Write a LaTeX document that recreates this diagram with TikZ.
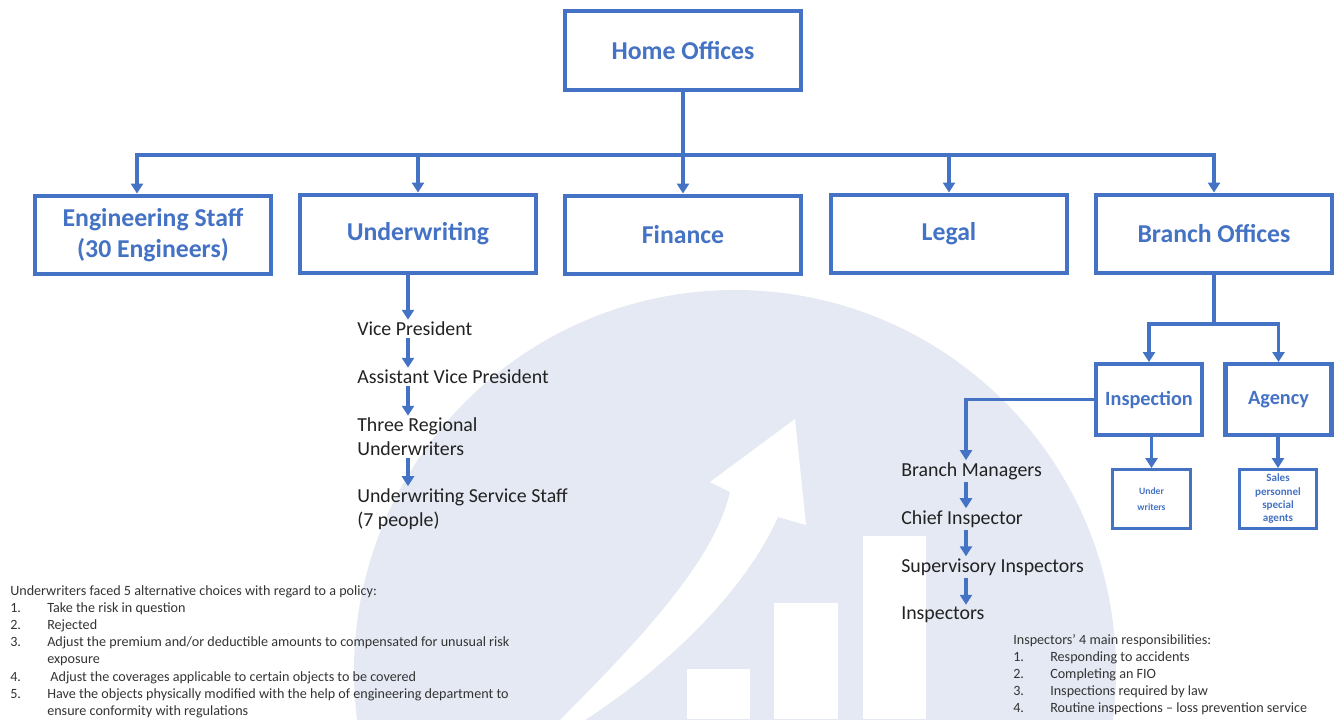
\documentclass[tikz,border=0pt]{standalone}
\usepackage{fontspec}
\setmainfont{Carlito}
\usetikzlibrary{arrows.meta}
\definecolor{boxblue}{HTML}{4472C4}
\definecolor{paleblue}{HTML}{E4E9F3}
\definecolor{ink}{HTML}{222222}
\definecolor{note}{HTML}{333333}
\tikzset{>=Triangle,
  unit/.style={draw=boxblue,line width=3.2pt,fill=white,text=boxblue,align=center,
    font=\fontsize{19.3}{23}\selectfont\bfseries,minimum width=177pt,minimum height=59pt},
  sub/.style={unit,font=\fontsize{15.2}{18}\selectfont\bfseries,minimum width=79.5pt,minimum height=53pt},
  leaf/.style={unit,line width=2.4pt,font=\fontsize{8.3}{10}\selectfont\bfseries,
    minimum width=58pt,minimum height=44pt,inner sep=1pt},
  link/.style={draw=boxblue,line width=2.6pt,line cap=rect},
  arr/.style={draw=boxblue,line width=2.6pt,-{Triangle[width=9pt,length=7.5pt]}},
  lvl/.style={anchor=west,text=ink,align=left,inner sep=1.5pt,font=\fontsize{14.9}{18}\selectfont},
  notes/.style={anchor=base west,text=note,inner sep=0pt,font=\fontsize{10.6}{12.9}\selectfont}}

\begin{document}
\begin{tikzpicture}[x=0.75pt,y=-0.75pt]
  \useasboundingbox (0,0) rectangle (1340,719);
  % pale emblem behind the chart
  \begin{scope}
    \clip (0,0) rectangle (1340,719);
    \fill[paleblue] (735,671) circle (381);
    \fill[white] (687,669) rectangle (750,719);
    \fill[white] (774,603) rectangle (838,719);
    \fill[white] (863,536) rectangle (926,719);
    \fill[white] (558,722) .. controls (640,640) and (715,560) .. (730,492)
      -- (710,482) -- (795,419) -- (806,525) -- (778,517)
      .. controls (745,590) and (670,665) .. (582,722) -- cycle;
  \end{scope}

  % top level
  \node[unit] (home) at (683,50.5) {Home Offices};
  \node[unit] (eng) at (153,235) {Engineering Staff\\(30 Engineers)};
  \node[unit] (uw) at (418,234) {Underwriting};
  \node[unit] (fin) at (683,235) {Finance};
  \node[unit] (legal) at (949,234) {Legal};
  \node[unit] (branch) at (1214,234) {Branch Offices};

  \coordinate (busL) at (137,155);
  \coordinate (busR) at (1214,155);
  \draw[link] (home.south) -- (home.south |- busL);
  \draw[link] (busL) -- (busR);
  \draw[arr] (busL) -- (busL |- eng.north);
  \foreach \n in {uw,fin,legal}
    \draw[arr] (\n.north |- busL) -- (\n.north);
  \draw[arr] (busR) -- (busR |- branch.north);

  % underwriting chain
  \coordinate (uwx) at (408,0);
  \node[lvl] (vp) at (355,329) {Vice President};
  \node[lvl] (avp) at (355,377) {Assistant Vice President};
  \node[lvl] (regional) at (355,437) {Three Regional\\Underwriters};
  \node[lvl] (service) at (355,509) {Underwriting Service Staff\\(7 people)};
  \draw[arr] (uwx |- uw.south) -- (uwx |- vp.north);
  \draw[arr] (uwx |- vp.south) -- (uwx |- avp.north);
  \draw[arr] (uwx |- avp.south) -- (uwx |- regional.north);
  \draw[arr] (uwx |- regional.south) -- (uwx |- service.north);

  % branch offices
  \coordinate (brsplit) at (1214,324);
  \node[sub] (insp) at (1149,399.5) {Inspection};
  \node[sub] (agency) at (1278.5,399.5) {Agency};
  \draw[link] (branch.south) -- (brsplit);
  \draw[link] (insp.north |- brsplit) -- (agency.north |- brsplit);
  \draw[arr] (insp.north |- brsplit) -- (insp.north);
  \draw[arr] (agency.north |- brsplit) -- (agency.north);

  \node[leaf,font=\fontsize{7.2}{12.5}\selectfont\bfseries] (uwr) at (1151.5,499) {Under\\writers};
  \node[leaf] (sales) at (1278,499) {Sales\\personnel\\special\\agents};
  \draw[arr] (uwr.north |- insp.south) -- (uwr.north);
  \draw[arr] (sales.north |- agency.south) -- (sales.north);

  % inspection chain
  \coordinate (inx) at (966,0);
  \node[lvl] (bm) at (899,471) {Branch Managers};
  \node[lvl] (chief) at (899,519) {Chief Inspector};
  \node[lvl] (sup) at (899,567) {Supervisory Inspectors};
  \node[lvl] (insps) at (899,615) {Inspectors};
  \draw[arr] (insp.west) -| (inx |- bm.north);
  \draw[arr] (inx |- bm.south) -- (inx |- chief.north);
  \draw[arr] (inx |- chief.south) -- (inx |- sup.north);
  \draw[arr] (inx |- sup.south) -- (inx |- insps.north);

  % notes
  \node[notes] (choices) at (10,595) {\begin{tabular}[t]{@{}p{27.75pt}@{}l@{}}
    \multicolumn{2}{@{}l@{}}{Underwriters faced 5 alternative choices with regard to a policy:}\\
    1. & Take the risk in question\\
    2. & Rejected\\
    3. & Adjust the premium and/or deductible amounts to compensated for unusual risk\\
       & exposure\\
    4. & \ Adjust the coverages applicable to certain objects to be covered\\
    5. & Have the objects physically modified with the help of engineering department to\\
       & ensure conformity with regulations
  \end{tabular}};
  \node[notes] (duties) at (1013,644) {\begin{tabular}[t]{@{}p{27.75pt}@{}l@{}}
    \multicolumn{2}{@{}l@{}}{Inspectors’ 4 main responsibilities:}\\
    1. & Responding to accidents\\
    2. & Completing an FIO\\
    3. & Inspections required by law\\
    4. & Routine inspections – loss prevention service
  \end{tabular}};
\end{tikzpicture}
\end{document}
